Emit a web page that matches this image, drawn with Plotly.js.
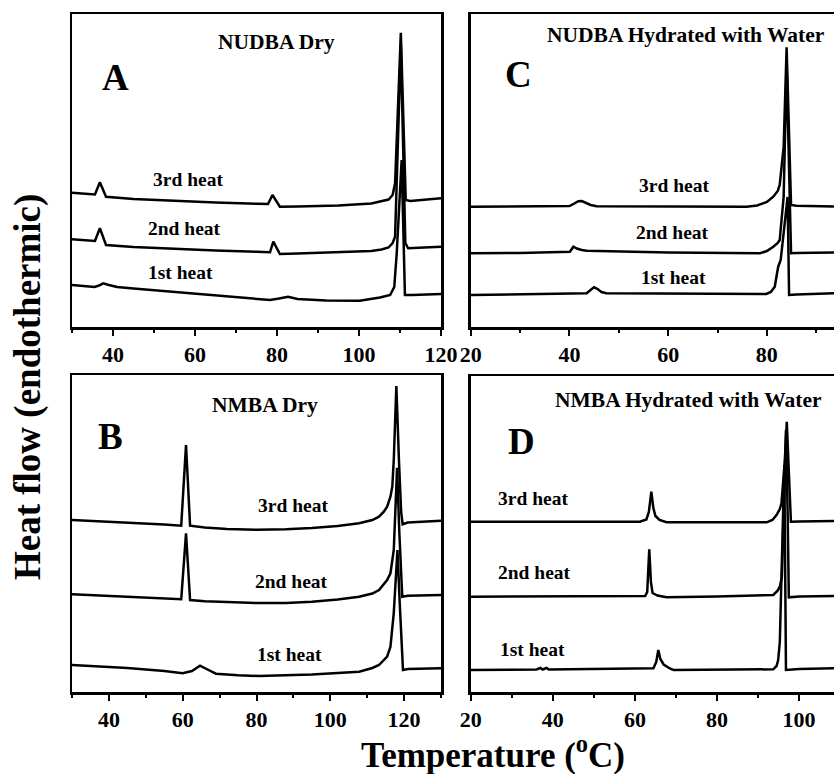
<!DOCTYPE html>
<html>
<head>
<meta charset="utf-8">
<script src="https://cdn.plot.ly/plotly-3.0.1.min.js"></script>
<style>html,body{margin:0;padding:0;background:#fff}#chart{width:834px;height:774px}</style>
</head>
<body>
<div id="chart"></div>
<script>
// ---------- DATA (temperature in °C, heat flow in arbitrary offset units) ----------
// Panel A : NUDBA Dry
const A3_T = [30, 33, 35.6, 36.8, 38.3, 45, 55, 65, 75, 77.8, 78.9, 80.7, 85, 95, 103, 105.5, 107.2, 108.2, 108.8, 110.2, 111.4, 112.5, 117, 120];
const A3_Y = [134.3, 133.5, 132.5, 144.7, 130.3, 128, 126, 124.5, 123.3, 123, 132, 120.3, 120.5, 121.5, 123.5, 125.5, 127.5, 132, 143.7, 294.3, 127, 126, 128, 128.7];
const A2_T = [30, 33, 35.6, 36.8, 38.3, 45, 55, 65, 75, 78.3, 79.1, 80.7, 85, 95, 103, 105.5, 107.2, 108.2, 108.8, 110.2, 111.3, 112, 117, 120];
const A2_Y = [87.7, 87, 86, 98.7, 82, 80, 78, 76.5, 75.3, 74.7, 85.3, 73, 73.5, 74.5, 76, 77.5, 79.5, 84, 90.3, 282, 84, 78.7, 80, 80.3];
const A1_T = [30, 35.5, 36.6, 37.6, 39, 41, 45, 55, 65, 75, 78.3, 80.5, 82.7, 85, 92, 100.2, 105.1, 107.6, 108.6, 109.2, 110.4, 111.2, 113, 120];
const A1_Y = [42, 40, 41.5, 43.7, 42, 40, 38.5, 35, 31.5, 28.5, 27, 28.5, 30.3, 28, 26.5, 26.3, 29.5, 32, 40, 73.7, 167, 32, 32, 33];

// Panel B : NMBA Dry
const B3_T = [30, 45, 55, 59.6, 60.9, 62.0, 66, 72, 80, 88, 95, 102, 107.8, 111.4, 113.2, 114.5, 115.4, 116.3, 116.8, 117.2, 117.9, 118.6, 119.2, 119.6, 121, 130];
const B3_Y = [172, 169.5, 167.5, 166.3, 247, 166.3, 164.5, 163, 162.3, 162.8, 164, 166, 168.7, 172, 175.3, 180.3, 185.3, 195.3, 205.3, 232, 306, 232, 180, 167.7, 169.5, 171.3];
const B2_T = [30, 45, 55, 59.6, 60.9, 62.0, 66, 72, 80, 88, 95, 102, 107.8, 111.4, 113.2, 115.4, 116.3, 117.2, 118.1, 118.7, 119.5, 121, 125, 130];
const B2_Y = [97.7, 95.5, 93.5, 92.7, 158.7, 92, 90.8, 89.8, 88.9, 89, 90.3, 92.5, 95.3, 98.5, 102, 112, 118.7, 142, 224.3, 160, 95.3, 96.3, 96.7, 97];
const B1_T = [30, 45, 55, 60, 62.5, 64.7, 66.2, 69, 75, 80.7, 95, 107.8, 111.4, 113.2, 115.4, 116.3, 117.2, 118.2, 118.8, 119.7, 121, 125, 130];
const B1_Y = [27, 24, 21, 18.7, 21, 26.3, 23.5, 18.3, 16.8, 16, 17.5, 20.3, 24, 27, 35.3, 45.3, 79, 142, 90, 22, 23, 23.3, 23.7];

// Panel C : NUDBA Hydrated with Water
const C3_T = [20, 30, 40, 41, 41.8, 42.5, 43.3, 44.3, 45.5, 60, 75.9, 78, 80, 81.3, 82.2, 82.6, 83.4, 84.0, 84.5, 84.9, 86, 93.6];
const C3_Y = [120.3, 120.5, 121, 123.5, 125.8, 126, 124.5, 122, 120.8, 120.5, 120.3, 121.5, 125, 130.3, 136, 142, 180, 279.7, 190, 122, 121.3, 120.5];
const C2_T = [20, 30, 40.1, 40.8, 41.5, 42.5, 43.5, 60, 78.6, 80, 81.3, 82.2, 82.6, 83.4, 84.0, 84.6, 84.9, 86, 93.6];
const C2_Y = [73.7, 74, 75.3, 80.3, 78.5, 77, 76.3, 74.5, 73.7, 76, 80.3, 84, 87, 130, 262, 150, 73.7, 74, 74.5];
const C1_T = [20, 30, 43.5, 44.4, 45.0, 45.7, 46.5, 47.5, 60, 79.9, 80.8, 81.6, 82.0, 82.3, 82.8, 83.6, 84.2, 84.5, 86, 93.6];
const C1_Y = [32, 32.5, 33.7, 37.5, 39.7, 38, 35, 33.7, 33.3, 33, 35, 40.3, 52, 60.3, 67, 100, 130, 32, 32.5, 33.7];

// Panel D : NMBA Hydrated with Water
const D3_T = [20, 40, 61.2, 62.8, 63.4, 64.0, 64.5, 65, 66, 67.7, 80, 92.1, 93.5, 94.5, 95.3, 95.7, 96.5, 97.0, 97.5, 98.0, 100, 108.5];
const D3_Y = [170.3, 170.3, 170.3, 172.5, 180, 200.3, 184, 176, 172, 169.7, 169.7, 169.7, 172, 177, 183, 188.7, 230, 270.3, 220, 170.3, 170.5, 171];
const D2_T = [20, 40, 62.5, 63.0, 63.5, 63.9, 64.3, 65.5, 67.7, 80, 93.7, 94.7, 95.3, 95.8, 96.8, 97.2, 97.5, 100, 108.5];
const D2_Y = [95.3, 95.5, 96, 100, 142.7, 110, 99, 96.5, 94.7, 95.5, 97, 101, 105.3, 115, 262, 180, 94.7, 95.5, 96];
const D1_T = [20, 36, 37, 37.5, 38.5, 39, 64.5, 65.2, 65.7, 66.2, 67, 68.5, 69.4, 80, 93.7, 94.5, 94.9, 95.3, 96.4, 96.8, 100, 108.5];
const D1_Y = [22, 22.5, 24, 22.5, 24, 22.5, 23.7, 30, 42, 33, 27.5, 23.5, 22, 22.3, 22.7, 26, 32, 50, 227, 22, 23, 23.7];

// ---------- TEXT ----------
const panelTitles = ["NUDBA Dry", "NMBA Dry", "NUDBA Hydrated with Water", "NMBA Hydrated with Water"];
const panelLetters = ["A", "B", "C", "D"];
const heatLabels = ["3rd heat", "2nd heat", "1st heat"];
const xTitle = "Temperature (<sup>o</sup>C)";
const yTitle = "Heat flow (endothermic)";

// ---------- BUILD ----------
const W = 834, H = 774;
const serif = "Liberation Serif, Times New Roman, serif";
function line(x, y, xa, ya) {
  return {x: x, y: y, xaxis: xa, yaxis: ya, type: 'scatter', mode: 'lines',
          line: {color: '#000', width: 2.5}, hoverinfo: 'skip', showlegend: false};
}
const traces = [
  line(A3_T, A3_Y, 'x', 'y'), line(A2_T, A2_Y, 'x', 'y'), line(A1_T, A1_Y, 'x', 'y'),
  line(B3_T, B3_Y, 'x2', 'y2'), line(B2_T, B2_Y, 'x2', 'y2'), line(B1_T, B1_Y, 'x2', 'y2'),
  line(C3_T, C3_Y, 'x3', 'y3'), line(C2_T, C2_Y, 'x3', 'y3'), line(C1_T, C1_Y, 'x3', 'y3'),
  line(D3_T, D3_Y, 'x4', 'y4'), line(D2_T, D2_Y, 'x4', 'y4'), line(D1_T, D1_Y, 'x4', 'y4')
];

function px(x0, x1) { return [x0 / W, x1 / W]; }
function py(top, bottom) { return [1 - bottom / H, 1 - top / H]; }
function xax(dom, range, anchor) {
  return {domain: dom, range: range, anchor: anchor, showline: true, mirror: true, linecolor: '#000', linewidth: 2.5,
          ticks: 'outside', ticklen: 6, tickwidth: 2, tickcolor: '#000', tick0: 0, dtick: 20,
          minor: {tick0: 0, dtick: 10, ticks: 'outside', ticklen: 3.5, tickwidth: 2, tickcolor: '#000'},
          tickfont: {family: serif, size: 22, color: '#000', weight: 700},
          showgrid: false, zeroline: false, fixedrange: true};
}
function yax(dom, range, anchor, mirror) {
  return {domain: dom, range: range, anchor: anchor, showline: true, mirror: mirror, linecolor: '#000', linewidth: 2.5,
          ticks: '', showticklabels: false, showgrid: false, zeroline: false, fixedrange: true};
}

const annotations = [];
function txt(text, x, y, size, extra) {
  annotations.push(Object.assign({text: text, x: x / W, y: 1 - y / H, xref: 'paper', yref: 'paper',
    xanchor: 'center', yanchor: 'middle', showarrow: false,
    font: {family: serif, size: size, color: '#000', weight: 700}}, extra || {}));
}
// panel titles
txt(panelTitles[0], 276, 42, 21.5);
txt(panelTitles[1], 264.5, 405, 21.5);
txt(panelTitles[2], 685.7, 35, 21.5);
txt(panelTitles[3], 688.8, 400, 21.5);
// letters
txt(panelLetters[0], 115.5, 78, 37);
txt(panelLetters[1], 110, 436, 37);
txt(panelLetters[2], 518, 74, 37);
txt(panelLetters[3], 521.3, 441, 37);
// heat labels
txt(heatLabels[0], 187.7, 180, 19.5); txt(heatLabels[1], 184.7, 228.3, 19.5); txt(heatLabels[2], 180.3, 272.5, 19.5);
txt(heatLabels[0], 293.3, 505.8, 19.5); txt(heatLabels[1], 291.3, 581, 19.5); txt(heatLabels[2], 289.2, 654, 19.5);
txt(heatLabels[0], 673.8, 185.8, 19.5); txt(heatLabels[1], 672.8, 233, 19.5); txt(heatLabels[2], 673, 277.5, 19.5);
txt(heatLabels[0], 533, 499, 19.5); txt(heatLabels[1], 534, 572.5, 19.5); txt(heatLabels[2], 532, 649, 19.5);
// axis titles
txt(xTitle, 493, 752, 35);
txt(yTitle, 28, 387, 37, {textangle: -90});

const layout = {
  width: W, height: H, margin: {l: 0, r: 0, t: 0, b: 0}, paper_bgcolor: '#fff', plot_bgcolor: '#fff',
  showlegend: false,
  xaxis:  xax(px(72, 441), [30, 120], 'y'),
  yaxis:  yax(py(14, 327), [0, 313], 'x', true),
  xaxis2: xax(px(72, 441), [30, 130], 'y2'),
  yaxis2: yax(py(375, 692), [0, 317], 'x2', true),
  xaxis3: xax(px(470.7, 834), [20, 93.6], 'y3'),
  yaxis3: yax(py(14, 327), [0, 313], 'x3', false),
  xaxis4: xax(px(470.7, 834), [20, 108.5], 'y4'),
  yaxis4: yax(py(376, 692), [0, 316], 'x4', false),
  annotations: annotations
};
Plotly.newPlot('chart', traces, layout, {staticPlot: true, displayModeBar: false});
</script>
</body>
</html>
